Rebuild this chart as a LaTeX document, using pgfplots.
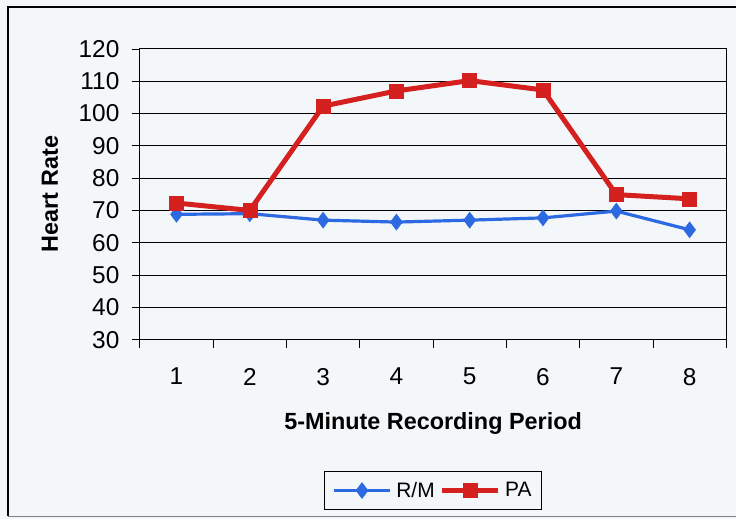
\documentclass[border=0pt]{standalone}
\usepackage{pgfplots}
\pgfplotsset{compat=1.18}
\usepackage{fontspec}
\setmainfont{Liberation Sans}
\definecolor{bg}{RGB}{243,247,250}
\definecolor{rmblue}{RGB}{45,105,225}
\definecolor{pared}{RGB}{212,32,30}
\begin{document}
\begin{tikzpicture}[x=1bp,y=1bp]
% background and frame (pixel (px,py) -> (px-140, 340-py))
\fill[bg] (-140,-180) rectangle (597,340);
\draw[black,line width=1.5bp] (-132,-177) -- (-132,333) -- (597,333);
\draw[gray,line width=1.2bp] (-132,-177) -- (597,-177);
\begin{axis}[
  at={(0,0)}, anchor=south west,
  scale only axis, width=587bp, height=291bp,
  xmin=0.5, xmax=8.5, ymin=30, ymax=120,
  xtick={1,...,8},
  xticklabels={1,2,3,4,5,6,7,8},
  minor xtick={0.5,1.5,...,8.5},
  ytick={30,40,...,120},
  tick align=outside,
  major x tick style={draw=none},
  minor x tick style={black,line width=0.8bp},
  major y tick style={black,line width=0.8bp},
  minor tick length=8bp,
  major tick length=8bp,
  tick pos=left,
  ymajorgrids,
  grid style={black,line width=0.9bp},
  axis line style={black,line width=0.9bp},
  /pgf/number format/assume math mode=true,
  ticklabel style={font=\fontsize{24.5}{28}\selectfont},
  xticklabel style={yshift=-17bp},
  yticklabel style={xshift=-9bp},
  xlabel={\textbf{5-Minute Recording Period}},
  ylabel={\textbf{Heart Rate}},
  xlabel style={font=\fontsize{23.5}{27}\selectfont, at={(axis description cs:0.5,-0.288)}, anchor=center},
  ylabel style={font=\fontsize{23.5}{27}\selectfont, at={(axis description cs:-0.1533,0.5)}, anchor=center},
  legend columns=2,
  legend style={at={(axis description cs:0.5,-0.519)}, anchor=center,
    draw=black, line width=0.8bp, fill=bg,
    font=\fontsize{21}{24}\selectfont, inner xsep=8bp, inner ysep=9bp,
    /tikz/every even column/.append style={column sep=3bp},
    /tikz/every odd column/.append style={column sep=3bp}},
  legend image code/.code={\draw[mark repeat=2,mark phase=2] plot coordinates {(0cm,0cm)(0.98cm,0cm)(1.96cm,0cm)};},
]
\addplot[color=rmblue, line width=3.2bp, mark=diamond*, mark size=8bp, mark options={solid, fill=rmblue, draw=rmblue, line width=0.5bp}]
  coordinates {(1,68.8) (2,69.0) (3,67.0) (4,66.4) (5,67.0) (6,67.7) (7,69.8) (8,64.0)};
\addlegendentry{R/M}
\addplot[color=pared, line width=5bp, mark=square*, mark size=7bp, mark options={solid, fill=pared, draw=pared, line width=0.5bp}]
  coordinates {(1,72.3) (2,70.0) (3,102.3) (4,107.0) (5,110.2) (6,107.3) (7,74.9) (8,73.6)};
\addlegendentry{PA}
\end{axis}
\end{tikzpicture}
\end{document}
